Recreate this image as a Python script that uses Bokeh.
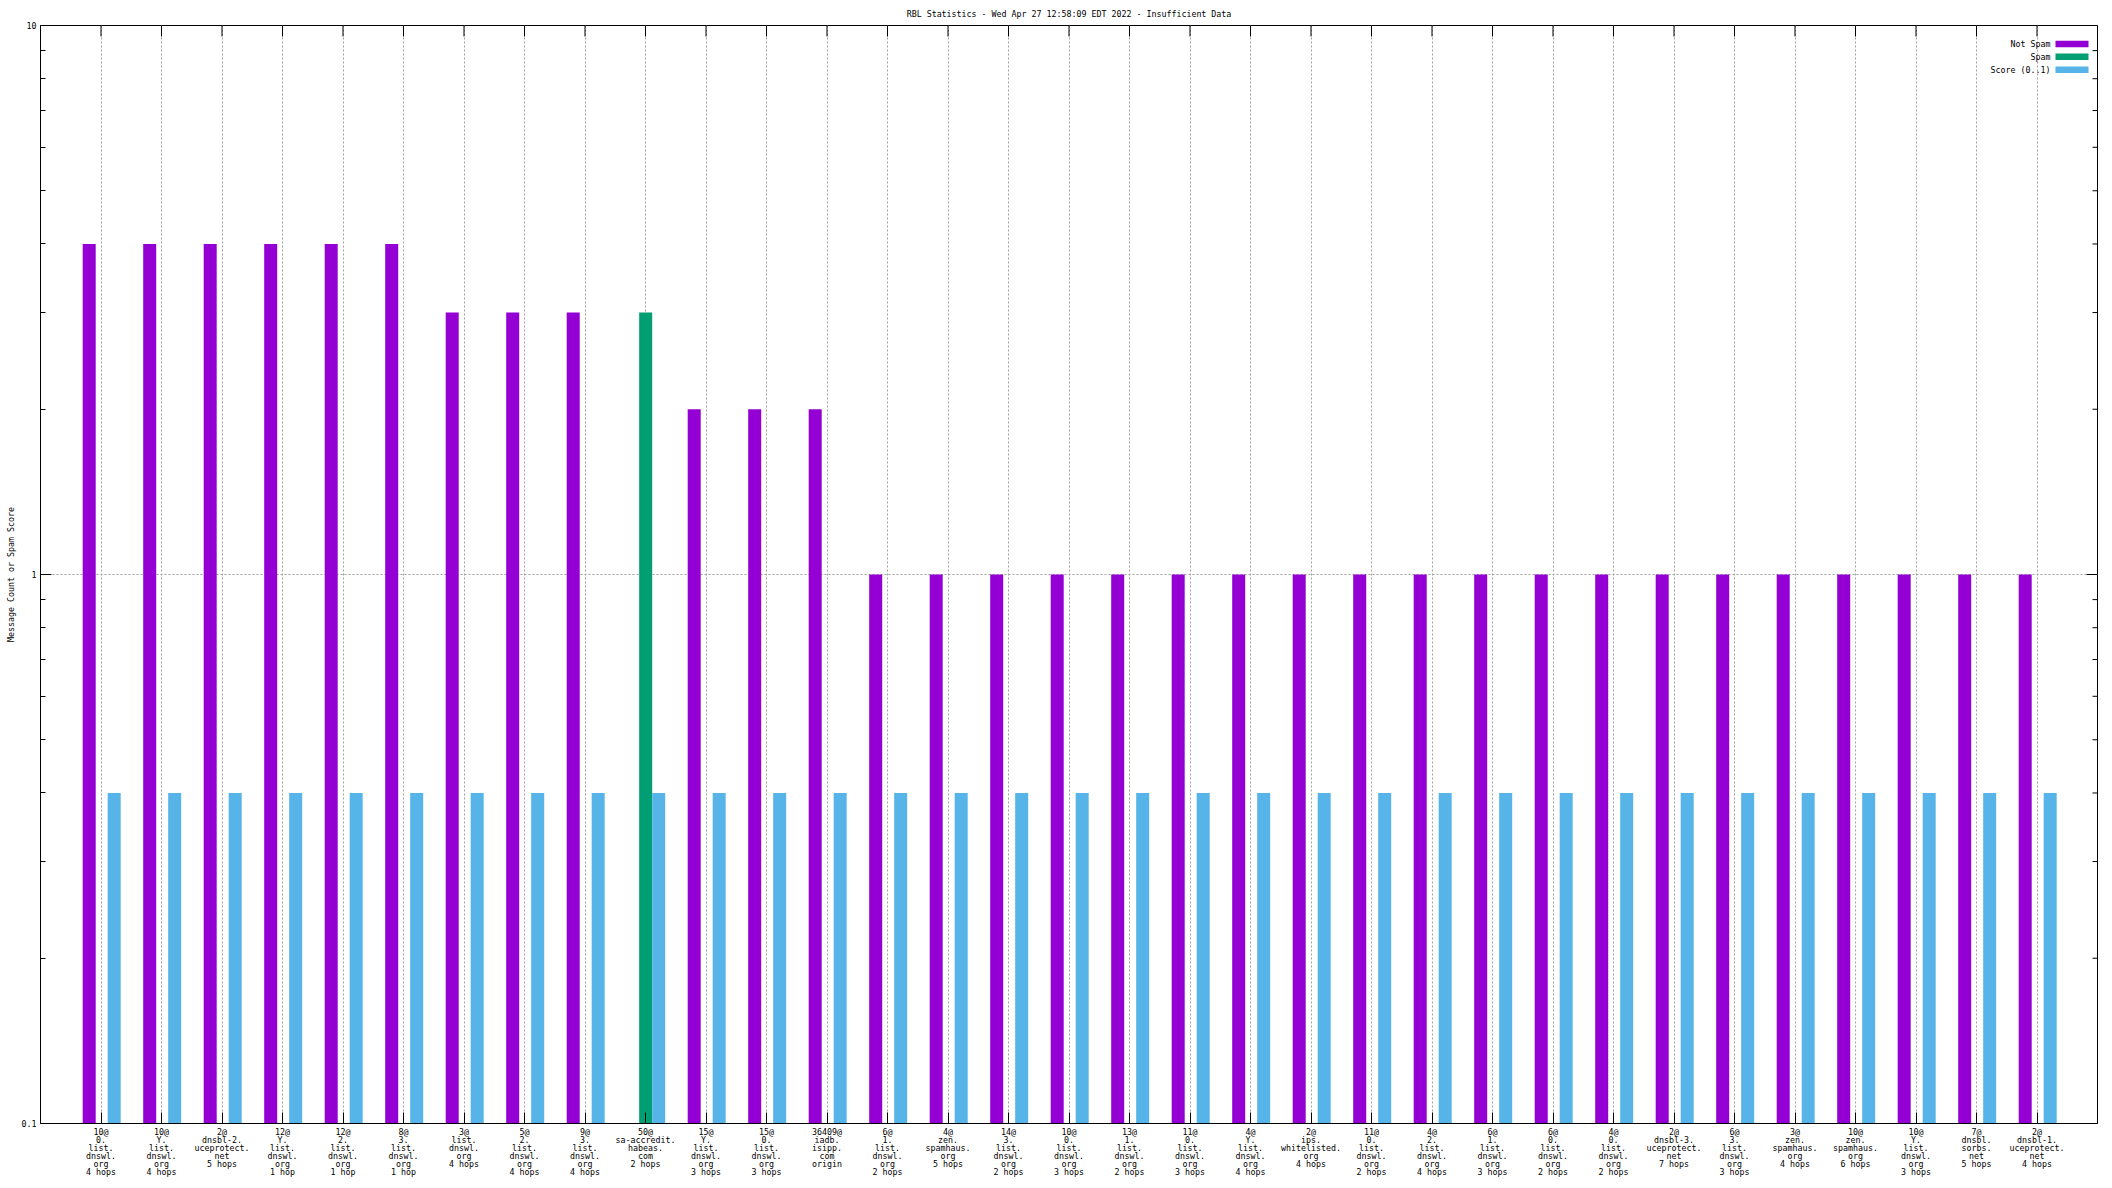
import math
from bokeh.plotting import figure
from bokeh.models import (FixedTicker, CustomJSTickFormatter, Title,
                          Label, ColumnDataSource, Range1d)
from bokeh.embed import file_html
from bokeh.resources import INLINE

# ---------------- data ----------------
categories = [
    "10@\n0.\nlist.\ndnswl.\norg\n4 hops",
    "10@\nY.\nlist.\ndnswl.\norg\n4 hops",
    "2@\ndnsbl-2.\nuceprotect.\nnet\n5 hops",
    "12@\nY.\nlist.\ndnswl.\norg\n1 hop",
    "12@\n2.\nlist.\ndnswl.\norg\n1 hop",
    "8@\n3.\nlist.\ndnswl.\norg\n1 hop",
    "3@\nlist.\ndnswl.\norg\n4 hops",
    "5@\n2.\nlist.\ndnswl.\norg\n4 hops",
    "9@\n3.\nlist.\ndnswl.\norg\n4 hops",
    "50@\nsa-accredit.\nhabeas.\ncom\n2 hops",
    "15@\nY.\nlist.\ndnswl.\norg\n3 hops",
    "15@\n0.\nlist.\ndnswl.\norg\n3 hops",
    "36409@\niadb.\nisipp.\ncom\norigin",
    "6@\n1.\nlist.\ndnswl.\norg\n2 hops",
    "4@\nzen.\nspamhaus.\norg\n5 hops",
    "14@\n3.\nlist.\ndnswl.\norg\n2 hops",
    "10@\n0.\nlist.\ndnswl.\norg\n3 hops",
    "13@\n1.\nlist.\ndnswl.\norg\n2 hops",
    "11@\n0.\nlist.\ndnswl.\norg\n3 hops",
    "4@\nY.\nlist.\ndnswl.\norg\n4 hops",
    "2@\nips.\nwhitelisted.\norg\n4 hops",
    "11@\n0.\nlist.\ndnswl.\norg\n2 hops",
    "4@\n2.\nlist.\ndnswl.\norg\n4 hops",
    "6@\n1.\nlist.\ndnswl.\norg\n3 hops",
    "6@\n0.\nlist.\ndnswl.\norg\n2 hops",
    "4@\n0.\nlist.\ndnswl.\norg\n2 hops",
    "2@\ndnsbl-3.\nuceprotect.\nnet\n7 hops",
    "6@\n3.\nlist.\ndnswl.\norg\n3 hops",
    "3@\nzen.\nspamhaus.\norg\n4 hops",
    "10@\nzen.\nspamhaus.\norg\n6 hops",
    "10@\nY.\nlist.\ndnswl.\norg\n3 hops",
    "7@\ndnsbl.\nsorbs.\nnet\n5 hops",
    "2@\ndnsbl-1.\nuceprotect.\nnet\n4 hops",
]
not_spam = [4, 4, 4, 4, 4, 4, 3, 3, 3, 0, 2, 2, 2,
            1, 1, 1, 1, 1, 1, 1, 1, 1, 1, 1, 1, 1, 1, 1, 1, 1, 1, 1, 1]
spam = [0, 0, 0, 0, 0, 0, 0, 0, 0, 3, 0, 0, 0,
        0, 0, 0, 0, 0, 0, 0, 0, 0, 0, 0, 0, 0, 0, 0, 0, 0, 0, 0, 0]
score = [0.4] * 33
series_names = ["Not Spam", "Spam", "Score (0..1)"]
y_ticks = [0.1, 1, 10]
y_minor = [0.2, 0.3, 0.4, 0.5, 0.6, 0.7, 0.8, 0.9, 2, 3, 4, 5, 6, 7, 8, 9]
title_text = "RBL Statistics - Wed Apr 27 12:58:09 EDT 2022 - Insufficient Data"
y_label = "Message Count or Spam Score"

# ---------------- style ----------------
COLORS = ["#9400d3", "#009e73", "#56b4e9"]
OFFSETS = [-0.195, 0.003, 0.218]
BAR_W = 0.215
FONT = "DejaVu Sans Mono"
FS = "8.3px"
GRID = "#a0a0a0"

X0, X1 = -1, 33
Y0, Y1 = 0.1, 10
FL, FR, FT, FB = 40, 2097, 24, 1123
W, H = 2104, 1186


def px_to_x(px):
    return X0 + (px - FL) / (FR - FL) * (X1 - X0)


def py_to_y(py):
    l0, l1 = math.log10(Y0), math.log10(Y1)
    return 10 ** (l1 - (py - FT) / (FB - FT) * (l1 - l0))


p = figure(width=W, height=H, y_axis_type="log",
           x_range=Range1d(X0, X1), y_range=Range1d(Y0, Y1),
           output_backend="svg", toolbar_location=None,
           min_border_left=FL, min_border_right=W - FR,
           min_border_top=FT, min_border_bottom=H - FB)
p.background_fill_color = "white"
p.border_fill_color = "white"
p.outline_line_color = "black"
p.outline_line_width = 1

# title
p.title.text = title_text
p.title.align = "center"
p.title.text_font = FONT
p.title.text_font_size = FS
p.title.text_font_style = "normal"
p.title.text_color = "black"
p.title.standoff = 13

xs = list(range(len(categories)))
xticker = FixedTicker(ticks=xs)
yticker = FixedTicker(ticks=y_ticks, minor_ticks=y_minor)

# bottom axis
xa = p.xaxis[0]
xa.ticker = xticker
xa.major_label_overrides = {i: c for i, c in enumerate(categories)}
xa.major_label_text_font = FONT
xa.major_label_text_font_size = FS
xa.major_label_text_line_height = 0.8
xa.major_label_text_color = "black"
xa.major_label_standoff = 3
xa.major_tick_in = 11
xa.major_tick_out = 0
xa.minor_tick_line_color = None
xa.axis_line_color = "black"
xa.major_tick_line_color = "black"

# left axis
ya = p.yaxis[0]
ya.ticker = yticker
ya.formatter = CustomJSTickFormatter(code="return tick.toString();")
ya.major_label_text_font = FONT
ya.major_label_text_font_size = FS
ya.major_label_text_color = "black"
ya.major_label_standoff = 4
ya.major_tick_in = 11
ya.major_tick_out = 0
ya.minor_tick_in = 5
ya.minor_tick_out = 0
ya.axis_line_color = "black"
ya.major_tick_line_color = "black"
ya.minor_tick_line_color = "black"

# y axis title as a side title (vertical text)
p.add_layout(Title(text=y_label, align="center", text_font=FONT, text_font_size=FS,
                   text_font_style="normal", text_color="black", standoff=6), "left")

# grids
p.xgrid.ticker = xticker
p.xgrid.grid_line_color = GRID
p.xgrid.grid_line_dash = "2 2"
p.ygrid.grid_line_color = GRID
p.ygrid.grid_line_dash = "2 2"
p.ygrid.minor_grid_line_color = None

# bars
for vals, color, off in zip([not_spam, spam, score], COLORS, OFFSETS):
    bx = [x + off for x, v in zip(xs, vals) if v > 0]
    bt = [v for v in vals if v > 0]
    src = ColumnDataSource(dict(x=bx, top=bt))
    p.vbar(x="x", top="top", bottom=Y0, width=BAR_W, source=src,
           fill_color=color, line_color=None)

# mirrored ticks on top and right edges of the frame
n = len(xs)
p.segment(x0=xs, x1=xs, y0=[Y1] * n, y1=[py_to_y(FT + 11)] * n,
          line_color="black", line_width=1)
p.segment(x0=[X1] * len(y_ticks), x1=[px_to_x(FR - 11)] * len(y_ticks),
          y0=y_ticks, y1=y_ticks, line_color="black", line_width=1)
p.segment(x0=[X1] * len(y_minor), x1=[px_to_x(FR - 5)] * len(y_minor),
          y0=y_minor, y1=y_minor, line_color="black", line_width=1)

# legend (text right, swatch on the right)
rows_py = [42.5, 55.3, 68.3]
for name, color, py in zip(series_names, COLORS, rows_py):
    p.add_layout(Label(x=px_to_x(2050), y=py_to_y(py), text=name,
                       text_align="right", text_baseline="middle",
                       text_font=FONT, text_font_size=FS, text_color="black"))
    p.quad(left=[px_to_x(2055)], right=[px_to_x(2088)],
           top=[py_to_y(py - 3.3)], bottom=[py_to_y(py + 3.3)],
           fill_color=color, line_color=None)

open("out.html", "w").write(file_html(p, INLINE))
